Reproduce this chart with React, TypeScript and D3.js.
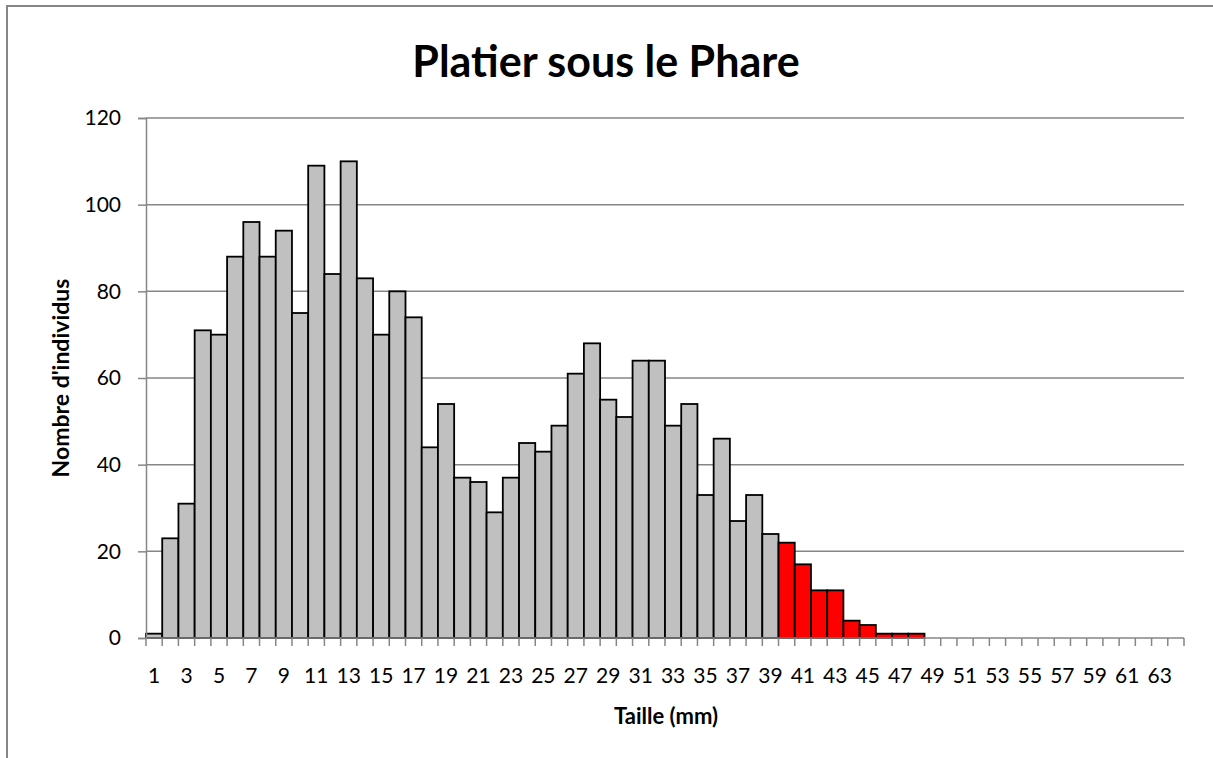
import React, {useEffect, useRef} from 'react';
import * as d3 from 'd3';

const categories = d3.range(1, 65).map(String);
const counts = [
  1, 23, 31, 71, 70, 88, 96, 88, 94, 75,
  109, 84, 110, 83, 70, 80, 74, 44, 54, 37,
  36, 29, 37, 45, 43, 49, 61, 68, 55, 51,
  64, 64, 49, 54, 33, 46, 27, 33, 24, 22,
  17, 11, 11, 4, 3, 1, 1, 1, 0, 0,
  0, 0, 0, 0, 0, 0, 0, 0, 0, 0,
  0, 0, 0, 0
];
const redFrom = 40; // sizes >= 40 mm highlighted
const yTicks = [0, 20, 40, 60, 80, 100, 120];
const title = 'Platier sous le Phare';
const xTitle = 'Taille (mm)';
const yTitle = "Nombre d'individus";

const font = 'Lato, "Open Sans", sans-serif';

export default function App() {
  const ref = useRef<SVGSVGElement>(null);

  useEffect(() => {
    const svg = d3.select(ref.current);
    svg.selectAll('*').remove();

    const W = 1213, H = 758;
    const left = 146, right = 1184, top = 118, bottom = 638;

    svg.append('rect')
      .attr('x', 7).attr('y', 6)
      .attr('width', W + 20).attr('height', H + 20)
      .attr('fill', 'white')
      .attr('stroke', '#868686').attr('stroke-width', 2);

    const x = d3.scaleBand().domain(categories).range([left, right]).padding(0);
    const y = d3.scaleLinear().domain([0, 120]).range([bottom, top]);

    // gridlines
    svg.append('g').selectAll('line')
      .data(yTicks.slice(1))
      .enter().append('line')
      .attr('x1', left).attr('x2', right)
      .attr('y1', d => y(d)).attr('y2', d => y(d))
      .attr('stroke', '#868686').attr('stroke-width', 1.5);

    // bars
    svg.append('g').selectAll('rect')
      .data(counts)
      .enter().append('rect')
      .attr('x', (d, i) => x(categories[i])!)
      .attr('y', d => y(d))
      .attr('width', x.bandwidth())
      .attr('height', d => bottom - y(d))
      .attr('fill', (d, i) => (+categories[i] >= redFrom ? '#FF0000' : '#C0C0C0'))
      .attr('stroke', (d) => (d > 0 ? 'black' : 'none'))
      .attr('stroke-width', 1.8);

    // y axis
    const yAxis = d3.axisLeft(y).tickValues(yTicks).tickSize(8).tickPadding(10);
    const gy = svg.append('g').attr('transform', `translate(${left},0)`).call(yAxis);
    gy.select('.domain').attr('stroke', '#868686').attr('stroke-width', 1.5);
    gy.selectAll('.tick line').attr('stroke', '#868686').attr('stroke-width', 1.5);
    gy.selectAll('.tick text')
      .attr('font-family', font).attr('font-size', 21).attr('fill', 'black')
      .attr('x', -25);

    // x axis
    const gx = svg.append('g').attr('transform', `translate(0,${bottom})`);
    gx.append('line')
      .attr('x1', left).attr('x2', right)
      .attr('stroke', '#868686').attr('stroke-width', 1.5);
    gx.selectAll('.xt')
      .data(categories.concat(['end']))
      .enter().append('line')
      .attr('x1', (d, i) => left + i * x.bandwidth())
      .attr('x2', (d, i) => left + i * x.bandwidth())
      .attr('y1', 0).attr('y2', 8)
      .attr('stroke', '#868686').attr('stroke-width', 1.5);
    gx.selectAll('text')
      .data(categories.filter((d, i) => i % 2 === 0))
      .enter().append('text')
      .attr('x', d => x(d)! + x.bandwidth() / 2)
      .attr('y', 45)
      .attr('text-anchor', 'middle')
      .attr('font-family', font).attr('font-size', 21)
      .text(d => d);

    svg.append('text')
      .attr('x', 606).attr('y', 77)
      .attr('text-anchor', 'middle')
      .attr('font-family', font).attr('font-size', 43).attr('font-weight', 'bold')
      .text(title);

    svg.append('text')
      .attr('x', 666).attr('y', 724)
      .attr('text-anchor', 'middle')
      .attr('font-family', font).attr('font-size', 22).attr('font-weight', 'bold')
      .text(xTitle);

    svg.append('text')
      .attr('transform', 'translate(69,378) rotate(-90)')
      .attr('text-anchor', 'middle')
      .attr('font-family', font).attr('font-size', 23).attr('font-weight', 'bold')
      .text(yTitle);
  }, []);

  return <svg ref={ref} width={1213} height={758} style={{position: 'absolute', left: 0, top: 0}}></svg>;
}
